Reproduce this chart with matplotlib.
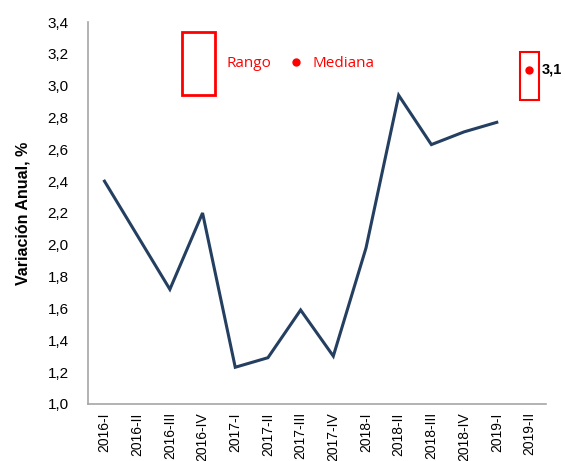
import matplotlib
matplotlib.use("Agg")
import matplotlib.pyplot as plt
from matplotlib.patches import Rectangle
from matplotlib.ticker import FuncFormatter

plt.rcParams['font.family'] = ['Liberation Sans', 'DejaVu Sans']

trimestres = ['2016-I', '2016-II', '2016-III', '2016-IV', '2017-I', '2017-II', '2017-III',
              '2017-IV', '2018-I', '2018-II', '2018-III', '2018-IV', '2019-I', '2019-II']
variacion = [2.40, 2.06, 1.72, 2.20, 1.23, 1.29, 1.59, 1.30, 1.98, 2.94, 2.63, 2.71, 2.77]
rango_min = 2.91
rango_max = 3.21
mediana = 3.10

fig = plt.figure(figsize=(5.65, 4.61), dpi=100)
ax = fig.add_axes([0.156, 0.124, 0.81, 0.828])

x = list(range(len(trimestres)))
ax.plot(x[:len(variacion)], variacion, color='#243F60', lw=2.2, solid_joinstyle='miter')

# rango y mediana de la proyeccion
ult = len(trimestres) - 1
ax.add_patch(Rectangle((ult - 0.28, rango_min), 0.56, rango_max - rango_min,
                       fill=False, ec='#FF0000', lw=1.5))
ax.plot(ult, mediana, 'o', color='#FF0000', ms=5)
ax.text(ult + 0.38, mediana, f'{mediana:.1f}'.replace('.', ','), fontsize=10.5,
        fontweight='bold', va='center', ha='left', clip_on=False)

# leyenda
ax.add_patch(Rectangle((2.37, 2.94), 1.0, 0.40, fill=False, ec='#FF0000', lw=2))
ax.text(3.72, 3.14, 'Rango', color='#FF0000', fontsize=11, family='Open Sans',
        va='center', ha='left')
ax.plot(5.85, 3.15, 'o', color='#FF0000', ms=5)
ax.text(6.35, 3.14, 'Mediana', color='#FF0000', fontsize=11, family='Open Sans',
        va='center', ha='left')

ax.set_xlim(-0.5, len(trimestres) - 0.5)
ax.set_ylim(1.0, 3.4)
ax.set_yticks([1.0 + 0.2 * i for i in range(13)])
ax.yaxis.set_major_formatter(FuncFormatter(lambda v, p: f'{v:.1f}'.replace('.', ',')))
ax.set_xticks(x)
ax.set_xticklabels(trimestres, rotation=90, fontsize=10)
ax.tick_params(axis='y', labelsize=11, length=0, pad=14)
ax.tick_params(axis='x', length=0, pad=6)

for s in ['top', 'right']:
    ax.spines[s].set_visible(False)
for s in ['left', 'bottom']:
    ax.spines[s].set_color('#A6A6A6')
    ax.spines[s].set_linewidth(1.2)

ax.set_ylabel('Variación Anual, %', fontsize=11.5, fontweight='bold', labelpad=12)

fig.savefig('out.png', dpi=100)
